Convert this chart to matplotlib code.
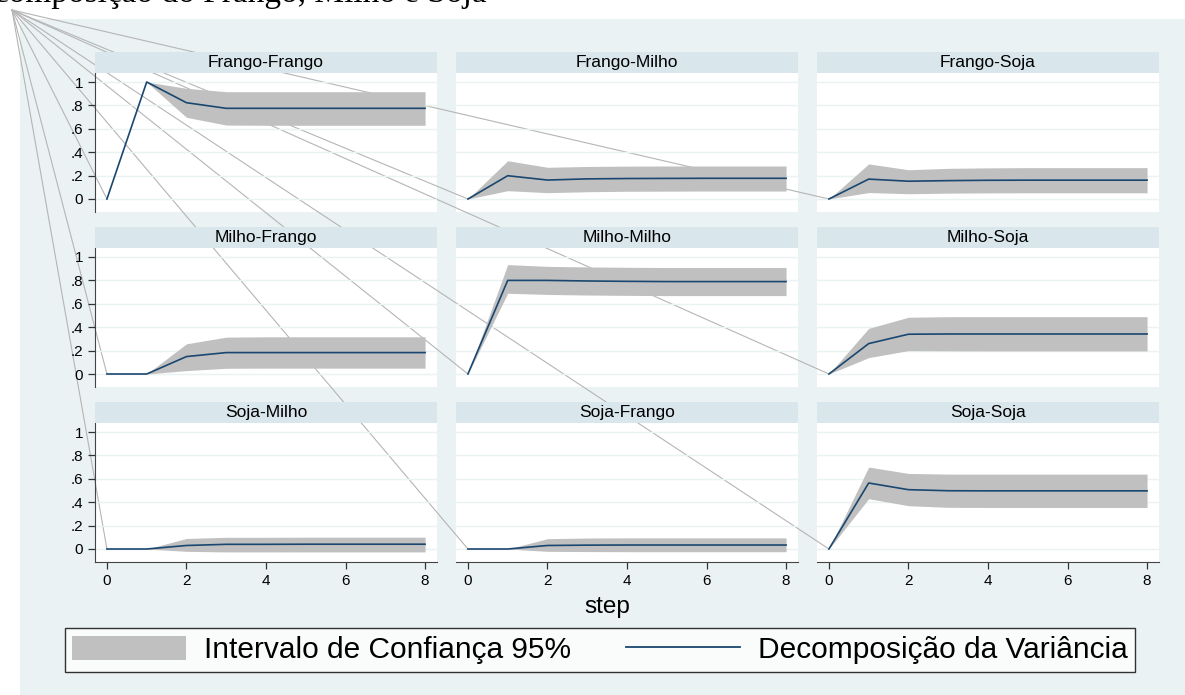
import matplotlib
matplotlib.use("Agg")
import matplotlib.pyplot as plt
from matplotlib.patches import Rectangle, ConnectionPatch, Patch
from matplotlib.lines import Line2D

plt.rcParams['font.family'] = ['Liberation Sans', 'DejaVu Sans']

steps = [0, 1, 2, 3, 4, 5, 6, 7, 8]
titles = ['Frango-Frango', 'Frango-Milho', 'Frango-Soja',
          'Milho-Frango', 'Milho-Milho', 'Milho-Soja',
          'Soja-Milho', 'Soja-Frango', 'Soja-Soja']

# decomposicao da variancia (linha) e intervalo de confianca 95%
fevd_ff = [0, 1.0, 0.823, 0.775, 0.775, 0.775, 0.775, 0.775, 0.775]
lo_ff = [0, 1.0, 0.698, 0.632, 0.630, 0.630, 0.630, 0.630, 0.630]
hi_ff = [0, 1.0, 0.946, 0.917, 0.917, 0.917, 0.917, 0.917, 0.917]

fevd_fm = [0, 0.199, 0.162, 0.172, 0.175, 0.176, 0.177, 0.177, 0.177]
lo_fm = [0, 0.071, 0.054, 0.062, 0.066, 0.067, 0.068, 0.068, 0.068]
hi_fm = [0, 0.327, 0.271, 0.278, 0.281, 0.282, 0.282, 0.282, 0.282]

fevd_fs = [0, 0.170, 0.152, 0.157, 0.160, 0.161, 0.161, 0.161, 0.161]
lo_fs = [0, 0.055, 0.045, 0.050, 0.052, 0.053, 0.053, 0.053, 0.053]
hi_fs = [0, 0.300, 0.250, 0.262, 0.266, 0.268, 0.268, 0.268, 0.268]

fevd_mf = [0, 0, 0.149, 0.183, 0.183, 0.183, 0.183, 0.183, 0.183]
lo_mf = [0, 0, 0.029, 0.049, 0.050, 0.050, 0.050, 0.050, 0.050]
hi_mf = [0, 0, 0.258, 0.315, 0.318, 0.318, 0.318, 0.318, 0.318]

fevd_mm = [0, 0.800, 0.800, 0.795, 0.792, 0.790, 0.790, 0.790, 0.790]
lo_mm = [0, 0.690, 0.680, 0.675, 0.672, 0.670, 0.670, 0.670, 0.670]
hi_mm = [0, 0.935, 0.920, 0.915, 0.912, 0.910, 0.910, 0.910, 0.910]

fevd_ms = [0, 0.260, 0.340, 0.342, 0.342, 0.342, 0.342, 0.342, 0.342]
lo_ms = [0, 0.140, 0.200, 0.198, 0.197, 0.197, 0.197, 0.197, 0.197]
hi_ms = [0, 0.390, 0.485, 0.490, 0.490, 0.490, 0.490, 0.490, 0.490]

fevd_sm = [0, 0, 0.030, 0.040, 0.040, 0.041, 0.041, 0.041, 0.041]
lo_sm = [0, 0, -0.020, -0.025, -0.025, -0.025, -0.025, -0.025, -0.025]
hi_sm = [0, 0, 0.090, 0.100, 0.100, 0.101, 0.101, 0.101, 0.101]

fevd_sf = [0, 0, 0.030, 0.033, 0.034, 0.034, 0.034, 0.034, 0.034]
lo_sf = [0, 0, -0.020, -0.022, -0.023, -0.023, -0.023, -0.023, -0.023]
hi_sf = [0, 0, 0.088, 0.094, 0.095, 0.095, 0.095, 0.095, 0.095]

fevd_ss = [0, 0.564, 0.507, 0.498, 0.497, 0.497, 0.497, 0.497, 0.497]
lo_ss = [0, 0.430, 0.370, 0.356, 0.355, 0.355, 0.355, 0.355, 0.355]
hi_ss = [0, 0.700, 0.646, 0.640, 0.640, 0.640, 0.640, 0.640, 0.640]

fevd = [fevd_ff, fevd_fm, fevd_fs, fevd_mf, fevd_mm, fevd_ms, fevd_sm, fevd_sf, fevd_ss]
lower = [lo_ff, lo_fm, lo_fs, lo_mf, lo_mm, lo_ms, lo_sm, lo_sf, lo_ss]
upper = [hi_ff, hi_fm, hi_fs, hi_mf, hi_mm, hi_ms, hi_sm, hi_sf, hi_ss]

yticks = [0, 0.2, 0.4, 0.6, 0.8, 1]
ytick_labels = ['0', '.2', '.4', '.6', '.8', '1']
xticks = [0, 2, 4, 6, 8]

W, H = 1185, 695
navy = '#1a476f'
band = '#c0c0c0'
bg = '#eaf2f3'
strip = '#d9e6eb'

fig = plt.figure(figsize=(W / 100, H / 100), dpi=100, facecolor='white')

# fundo azulado do grafico (a parte de cima e recortada)
fig.add_artist(Rectangle((20 / W, 0), 1, 1 - 19 / H, transform=fig.transFigure,
                         facecolor=bg, edgecolor='none', zorder=-3))

# texto do documento, cortado no topo como na imagem original
fig.text(-45 / W, 1 - 2 / H, 'Decomposição do Frango, Milho e Soja',
         family='Liberation Serif', fontsize=24, va='baseline', ha='left')

col_left = [95, 456, 817]
col_w = 342
row_zero = [199, 374, 549]
top_off, bot_off = 126, 13
strip_h = 21

axes = []
for i in range(9):
    r, c = divmod(i, 3)
    top = row_zero[r] - top_off
    bottom = row_zero[r] + bot_off
    ax = fig.add_axes([col_left[c] / W, 1 - bottom / H, col_w / W, (bottom - top) / H])
    ax.set_facecolor('none')
    # fundo branco abaixo das linhas diagonais
    fig.add_artist(Rectangle((0, 0), 1, 1, transform=ax.transAxes,
                             facecolor='white', edgecolor='none', zorder=-2))
    ax.set_xlim(-0.3, 8.3)
    ax.set_ylim(-bot_off / 117, top_off / 117)

    ax.fill_between(steps, lower[i], upper[i], color=band, linewidth=0, zorder=2)
    ax.plot(steps, fevd[i], color=navy, lw=1.2, zorder=3)

    for yv in yticks:
        ax.axhline(yv, color=bg, lw=1, zorder=1)

    for s in ax.spines.values():
        s.set_visible(False)
    ax.tick_params(colors='#333333', labelsize=11, length=5, width=0.9, labelcolor='black')
    if c == 0:
        ax.spines['left'].set_visible(True)
        ax.spines['left'].set_color('#444444')
        ax.set_yticks(yticks)
        ax.set_yticklabels(ytick_labels)
    else:
        ax.set_yticks([])
    if r == 2:
        ax.spines['bottom'].set_visible(True)
        ax.spines['bottom'].set_color('#444444')
        ax.set_xticks(xticks)
    else:
        ax.set_xticks([])

    # faixa do titulo
    sh = strip_h / (bottom - top)
    ax.add_patch(Rectangle((0, 1), 1, sh, transform=ax.transAxes, facecolor=strip,
                           edgecolor='none', clip_on=False, zorder=4))
    ax.text(0.5, 1 + sh / 2, titles[i], transform=ax.transAxes, ha='center',
            va='center', fontsize=12.5, zorder=5)
    axes.append(ax)

# linhas cinzas que partem do canto superior esquerdo
for ax in axes:
    fig.add_artist(ConnectionPatch(xyA=(12 / W, 1 - 10 / H), coordsA='figure fraction',
                                   xyB=(0, 0), coordsB=ax.transData,
                                   color='#b5b5b5', lw=0.8, zorder=-1))

fig.text(607 / W, 1 - 607 / H, 'step', ha='center', va='center', fontsize=17.5)

handles = [Patch(facecolor=band, edgecolor='none'), Line2D([], [], color=navy, lw=1.3)]
labels = ['Intervalo de Confiança 95%', 'Decomposição da Variância']
leg = fig.legend(handles, labels, loc='center', ncol=2, mode='expand',
                 bbox_to_anchor=(65 / W, 1 - 672 / H, 1070 / W, 44 / H),
                 fontsize=21.5, frameon=True, fancybox=False, borderaxespad=0,
                 handlelength=3.8, handleheight=0.85, handletextpad=0.6,
                 borderpad=0.25, columnspacing=1.0)
leg.get_frame().set_edgecolor('black')
leg.get_frame().set_linewidth(1.0)

fig.savefig('out.png', dpi=100, facecolor='white')
